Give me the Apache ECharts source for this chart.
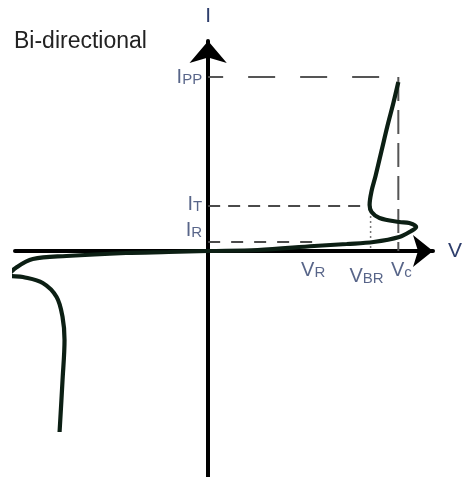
<!DOCTYPE html>
<html>
<head>
<meta charset="utf-8">
<script src="https://cdn.jsdelivr.net/npm/echarts@6/dist/echarts.min.js"></script>
<style>
  html, body { margin: 0; padding: 0; background: #fff; }
  #chart { width: 465px; height: 477px; }
</style>
</head>
<body>
<div id="chart"></div>
<script>
  // I-V curve of a bi-directional TVS diode (schematic units)
  var curveV = [-150, -147, -145, -147, -153, -167, -187, -201, -193, -177, -143, -83, -40, 0,
                50, 107, 140, 167, 193, 205, 210, 203, 193, 173, 165, 163, 165, 169, 175, 181, 187, 192];
  var curveI = [-181, -129, -89, -66, -46, -32, -26, -24, -16, -8, -5, -2, -1, 0,
                1, 5, 7, 9, 14, 20, 24, 28, 29, 33, 39, 46, 60, 75, 100, 125, 148, 169];

  // reference levels on the current axis
  var iNames = ['IPP', 'IT', 'IR'];
  var iValues = [174, 45, 9];

  // reference levels on the voltage axis
  var vNames = ['VR', 'VBR', 'Vc'];
  var vValues = [106, 164, 192];

  var labelColor = '#2e3e6c';
  var font = '"Liberation Sans", Arial, sans-serif';
  var rich = {
    m: { fontSize: 20, color: labelColor, fontFamily: font, verticalAlign: 'bottom', lineHeight: 21 },
    s: { fontSize: 15, color: labelColor, fontFamily: font, verticalAlign: 'bottom', lineHeight: 21 }
  };
  function sub(p) {
    return '{m|' + p.name.charAt(0) + '}{s|' + p.name.slice(1) + '}';
  }

  var curveData = curveV.map(function (v, k) { return [v, curveI[k]]; });

  var ipp = iValues[0], it = iValues[1], ir = iValues[2];
  var vr = vValues[0], vbr = vValues[1], vc = vValues[2];

  function guide(data, dash, width, color, offset) {
    return {
      type: 'line', data: data, symbol: 'none', silent: true, clip: false,
      lineStyle: { color: color || '#4a4a4a', width: width || 2, type: dash, dashOffset: offset || 0 }
    };
  }

  var yLabelOffsets = [[0, 0], [0, -2], [0, -12]];
  var xLabelOffsets = [[0, 0], [-4, 6], [3, 0]];

  var myChart = echarts.init(document.getElementById('chart'));
  myChart.setOption({
    animation: false,
    title: {
      text: 'Bi-directional',
      left: 14, top: 30, padding: 0,
      textStyle: { fontSize: 23, fontWeight: 'normal', color: '#222', fontFamily: font }
    },
    grid: { left: 15, right: 28, top: 41, bottom: 0 },
    xAxis: {
      type: 'value', min: -195, max: 227,
      name: 'V', nameLocation: 'end', nameGap: 15,
      nameTextStyle: { fontSize: 21, color: labelColor, fontFamily: font, verticalAlign: 'middle' },
      axisLine: { onZero: true, symbol: ['none', 'arrow'], symbolSize: [24, 20],
                  lineStyle: { color: '#000', width: 4 } },
      axisTick: { show: false }, axisLabel: { show: false }, splitLine: { show: false }
    },
    yAxis: {
      type: 'value', min: -226, max: 210,
      name: 'I', nameLocation: 'end', nameGap: 14,
      nameTextStyle: { fontSize: 21, color: labelColor, fontFamily: font },
      axisLine: { onZero: true, symbol: ['none', 'arrow'], symbolSize: [28, 22],
                  lineStyle: { color: '#000', width: 4 } },
      axisTick: { show: false }, axisLabel: { show: false }, splitLine: { show: false }
    },
    series: [
      guide([[0, ipp], [vc, ipp]], [27, 25], 2, '#555', 12),
      guide([[vc, ipp], [vc, 0]], [24, 9], 2, '#555'),
      guide([[0, it], [vbr, it]], [12, 8], 2, '#4a4a4a'),
      guide([[0, ir], [vr, ir]], [12, 11], 2.2, '#4a4a4a'),
      guide([[vbr, it], [vbr, 0]], [2, 3], 1.5, '#777'),
      {
        type: 'line', data: curveData, symbol: 'none', smooth: 0.35, clip: false, silent: true,
        lineStyle: { color: '#0c1f14', width: 4.2 }, z: 5
      },
      {
        type: 'scatter', symbolSize: 0, silent: true,
        data: iNames.map(function (n, k) {
          return { name: n, value: [0, iValues[k]], label: { offset: yLabelOffsets[k] } };
        }),
        label: { show: true, position: 'left', distance: 6, formatter: sub, rich: rich }
      },
      {
        type: 'scatter', symbolSize: 0, silent: true,
        data: vNames.map(function (n, k) {
          return { name: n, value: [vValues[k], 0], label: { offset: xLabelOffsets[k] } };
        }),
        label: { show: true, position: 'bottom', distance: 8, formatter: sub, rich: rich }
      }
    ]
  });
</script>
</body>
</html>
